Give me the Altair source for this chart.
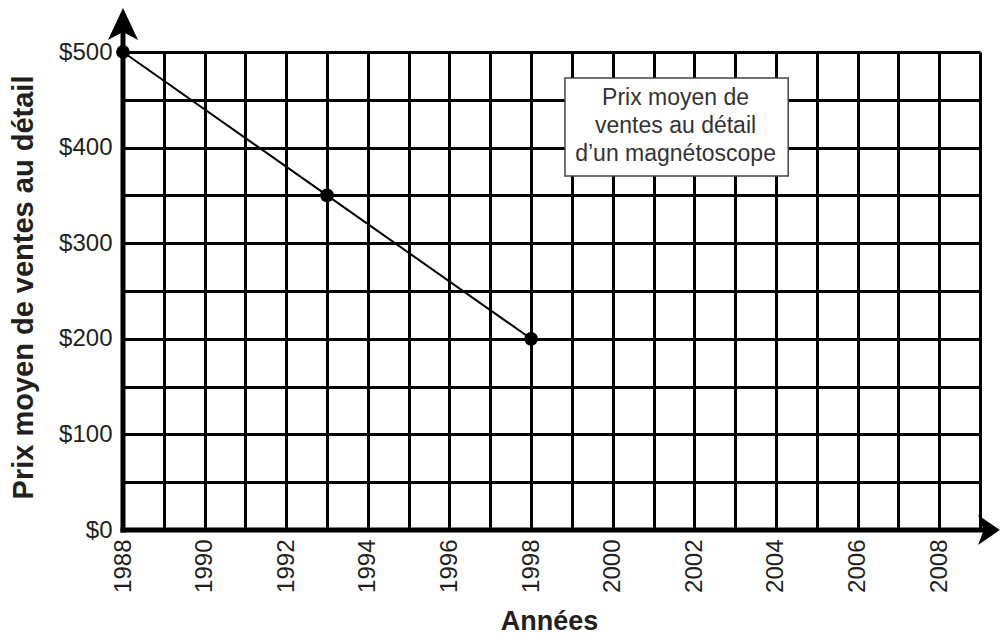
import altair as alt
import pandas as pd

# Data
years = [1988, 1993, 1998]
prices = [500, 350, 200]

x_ticks = list(range(1988, 2010))
y_ticks = list(range(0, 501, 50))

box_year = [1998.83]
box_year2 = [2004.3]
box_price = [472.8]
box_price2 = [370.3]
box_text = ["Prix moyen de\nventes au détail\nd’un magnétoscope"]
box_text_year = [2001.54]
box_text_price = [452.0]

FONT = "Liberation Sans"
TXT = "#231f20"

df = pd.DataFrame({"year": years, "price": prices})

x_axis = alt.Axis(
    values=x_ticks,
    labelExpr="datum.value % 2 == 0 ? datum.label : ''",
    format="d",
    labelAngle=270,
    labelFont=FONT,
    labelFontSize=24,
    labelColor=TXT,
    labelPadding=9,
    labelOverlap=False,
    ticks=False,
    domain=False,
    grid=True,
    gridColor="black",
    gridWidth=3,
    gridOpacity=1,
    title="Années",
    titleFont=FONT,
    titleFontSize=27,
    titleFontWeight="bold",
    titleColor=TXT,
    titleX=426,
    titleY=99,
    titleAlign="center",
    titleBaseline="alphabetic",
)

y_axis = alt.Axis(
    values=y_ticks,
    labelExpr="datum.value % 100 == 0 ? '$' + datum.value : ''",
    labelFont=FONT,
    labelFontSize=24,
    labelColor=TXT,
    labelPadding=11,
    labelOverlap=False,
    ticks=False,
    domain=False,
    grid=True,
    gridColor="black",
    gridWidth=3,
    gridOpacity=1,
    title="Prix moyen de ventes au détail",
    titleFont=FONT,
    titleFontSize=29,
    titleFontWeight="bold",
    titleColor=TXT,
    titleX=-100,
    titleY=235,
    titleAngle=270,
    titleAlign="center",
    titleBaseline="middle",
)

x_scale = alt.Scale(domain=[1988, 2009], nice=False, zero=False)
y_scale = alt.Scale(domain=[0, 500], nice=False, zero=False)

X = alt.X("year:Q", scale=x_scale, axis=x_axis)
Y = alt.Y("price:Q", scale=y_scale, axis=y_axis)

base = alt.Chart(df)

line = base.mark_line(color="black", strokeWidth=2).encode(x=X, y=Y)
points = base.mark_circle(color="black", size=190, opacity=1).encode(x=X, y=Y)

# axis lines with arrows
yaxis_df = pd.DataFrame({"year": [1988], "price": [0], "price2": [525]})
yaxis_line = alt.Chart(yaxis_df).mark_rule(color="black", strokeWidth=5, strokeCap="square").encode(
    x=X, y=Y, y2="price2:Q"
)
xaxis_df = pd.DataFrame({"year": [1988], "year2": [2009.2], "price": [0]})
xaxis_line = alt.Chart(xaxis_df).mark_rule(color="black", strokeWidth=5, strokeCap="square").encode(
    x=X, x2="year2:Q", y=Y
)

up_arrow = alt.Chart(pd.DataFrame({"year": [1988], "price": [529.3]})).mark_point(
    shape="M0,-1 L0.94,1 L0,0.5 L-0.94,1 Z", filled=True, color="black", opacity=1, size=1024, strokeWidth=0
).encode(x=X, y=Y)

right_arrow = alt.Chart(pd.DataFrame({"year": [2009.22], "price": [0]})).mark_point(
    shape="M0.73,0 L-0.73,-1 L-0.35,0 L-0.73,1 Z", filled=True, color="black", opacity=1, size=900, strokeWidth=0
).encode(x=X, y=Y)

box_df = pd.DataFrame({"year": box_year, "year2": box_year2, "price": box_price, "price2": box_price2})
box = alt.Chart(box_df).mark_rect(fill="white", stroke="#444444", strokeWidth=1.5).encode(
    x=X, x2="year2:Q", y=Y, y2="price2:Q"
)

text_df = pd.DataFrame({"year": box_text_year, "price": box_text_price, "label": box_text})
box_label = alt.Chart(text_df).mark_text(
    font=FONT, fontSize=23, color="#333333", lineBreak="\n", lineHeight=28,
    align="center", baseline="middle"
).encode(x=X, y=Y, text="label:N")

chart = alt.layer(
    line, points, yaxis_line, xaxis_line, up_arrow, right_arrow, box, box_label
).properties(
    width=857,
    height=478,
    autosize=alt.AutoSizeParams(type="none"),
    padding={"left": 115, "top": 44, "right": 20, "bottom": 105},
    background="white",
).configure_view(stroke=None)

chart.save("out.html", embed_options={"renderer": "svg", "actions": False})
